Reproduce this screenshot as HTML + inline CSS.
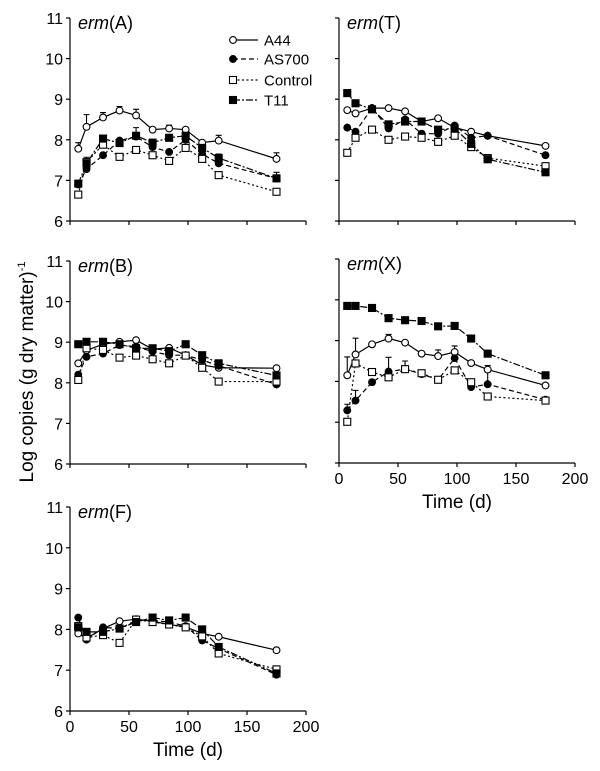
<!DOCTYPE html>
<html><head><meta charset="utf-8">
<style>
html,body{margin:0;padding:0;background:#fff;}
svg{display:block;font-family:"Liberation Sans",Arial,sans-serif;}
</style></head>
<body>
<svg id="chart" width="600" height="771" viewBox="0 0 600 771" xmlns="http://www.w3.org/2000/svg"></svg>
<script>
const days = [7,14,28,42,56,70,84,98,112,126,175];
const seriesNames = ["A44","AS700","Control","T11"];
const xTicks = [0,50,100,150,200];
const yTicks = [6,7,8,9,10,11];
// panel erm(A)
const A_A44 = [7.78,8.32,8.55,8.72,8.6,8.25,8.28,8.25,7.93,7.98,7.53];
const A_AS700 = [6.9,7.28,7.62,7.98,8.08,7.82,7.7,8.0,7.65,7.42,7.05];
const A_Control = [6.65,7.45,7.88,7.58,7.75,7.62,7.48,7.8,7.53,7.13,6.72];
const A_T11 = [6.92,7.42,8.03,7.92,8.1,7.93,8.05,8.1,7.8,7.55,7.05];
const A_A44_err = [0.15,0.3,0.12,0.1,0.15,0.05,0.08,0.03,0.03,0.13,0.15];
const A_T11_err = [0.05,0.15,0.05,0.05,0.2,0.05,0.05,0.1,0.05,0.1,0.15];
// panel erm(T)
const T_A44 = [8.73,8.65,8.78,8.78,8.7,8.45,8.53,8.3,8.2,8.1,7.85];
const T_AS700 = [8.3,8.2,8.78,8.28,8.5,8.15,8.15,8.35,8.05,8.1,7.62];
const T_Control = [7.68,8.05,8.25,8.0,8.08,8.05,7.95,8.1,7.82,7.55,7.35];
const T_T11 = [9.15,8.9,8.75,8.38,8.45,8.45,8.25,8.28,7.9,7.52,7.2];
// panel erm(B)
const B_A44 = [8.48,8.8,8.95,9.01,9.05,8.83,8.86,8.68,8.44,8.37,8.36];
const B_AS700 = [8.2,8.64,8.72,8.93,8.89,8.77,8.68,8.68,8.56,8.42,7.96];
const B_Control = [8.07,8.85,8.81,8.62,8.67,8.58,8.48,8.67,8.37,8.03,8.03];
const B_T11 = [8.95,9.01,9.01,8.95,8.85,8.85,8.78,8.95,8.68,8.48,8.18];
// panel erm(X)
const X_A44 = [8.15,8.66,8.91,9.05,8.95,8.68,8.62,8.72,8.45,8.29,7.9];
const X_AS700 = [7.29,7.53,7.98,8.24,8.3,8.18,8.04,8.57,7.86,7.93,7.55];
const X_Control = [7.01,8.44,8.23,8.1,8.3,8.2,8.04,8.27,7.98,7.63,7.53];
const X_T11 = [9.85,9.85,9.8,9.55,9.5,9.48,9.35,9.36,9.05,8.68,8.15];
const X_A44_err = [0.45,0.4,0.03,0.1,0.03,0.05,0.15,0.15,0.03,0.1,0.03];
const X_AS700_err = [0.15,0.25,0.05,0.35,0.2,0.05,0.05,0.05,0.1,0.3,0.03];
// panel erm(F)
const F_A44 = [7.9,7.78,8.02,8.2,8.25,8.2,8.12,8.06,7.9,7.82,7.49];
const F_AS700 = [8.29,7.75,8.05,8.02,8.22,8.22,8.18,8.08,7.73,7.53,6.89];
const F_Control = [8.08,7.8,7.86,7.67,8.24,8.18,8.12,8.05,7.83,7.41,7.02];
const F_T11 = [8.05,7.94,7.94,8.02,8.18,8.29,8.22,8.29,8.0,7.57,6.92];

const NS="http://www.w3.org/2000/svg";
const svg=document.getElementById('chart');
function el(tag,attrs,parent){const e=document.createElementNS(NS,tag);for(const k in attrs)e.setAttribute(k,attrs[k]);(parent||svg).appendChild(e);return e;}
const styles={
 A44:{dash:"",fill:"#fff"},
 AS700:{dash:"5,3",fill:"#000"},
 Control:{dash:"2,2.5",fill:"#fff"},
 T11:{dash:"7,2,2,2",fill:"#000"}
};
const panels=[
 {id:"A",x0:70,x1:306,y11:18,y6:221,data:[A_A44,A_AS700,A_Control,A_T11],err:[A_A44_err,null,null,A_T11_err],yLabels:true,xLabels:false},
 {id:"T",x0:339,x1:575,y11:18,y6:221,data:[T_A44,T_AS700,T_Control,T_T11],err:[],yLabels:false,xLabels:false},
 {id:"B",x0:70,x1:306,y11:261,y6:464,data:[B_A44,B_AS700,B_Control,B_T11],err:[],yLabels:true,xLabels:false},
 {id:"X",x0:339,x1:575,y11:259,y6:463,data:[X_A44,X_AS700,X_Control,X_T11],err:[X_A44_err,X_AS700_err],yLabels:false,xLabels:true},
 {id:"F",x0:70,x1:306,y11:507,y6:711,data:[F_A44,F_AS700,F_Control,F_T11],err:[],yLabels:true,xLabels:true}
];
panels.forEach(p=>{
 const g=el('g',{});
 
 
 const xs=v=>p.x0+(v-0)/200*(p.x1-p.x0);
 const ys=v=>p.y6-(v-6)/5*(p.y6-p.y11);
 const ax=el('path',{d:`M${p.x0},${p.y11} V${p.y6} H${p.x1}`,stroke:"#000","stroke-width":1.2,fill:"none"},g);
 
 
 yTicks.forEach(t=>{
  el('line',{x1:p.x0-4,x2:p.x0,y1:ys(t),y2:ys(t),stroke:"#000","stroke-width":1.2},g);
  if(p.yLabels){const tx=el('text',{x:p.x0-7,y:ys(t)+6,"text-anchor":"end","font-size":16},g);tx.textContent=t;
   
   }
 });
 xTicks.forEach(t=>{
  el('line',{x1:xs(t),x2:xs(t),y1:p.y6,y2:p.y6+4,stroke:"#000","stroke-width":1.2},g);
  if(p.xLabels){const tx=el('text',{x:xs(t),y:p.y6+21,"text-anchor":"middle","font-size":16},g);tx.textContent=t;
   
   }
 });
 if(p.xLabels){const tt=el('text',{x:(p.x0+p.x1)/2,y:p.y6+45,"text-anchor":"middle","font-size":19},g);tt.textContent="Time (d)";
  
  }
 const title=el('text',{x:p.x0+8,y:p.y11+11,"font-size":18},g);
 title.innerHTML='<tspan font-style="italic">erm</tspan>('+p.id+')';
 
 
 p.data.forEach((vals,si)=>{
  const nm=seriesNames[si], st=styles[nm];
  const pts=vals.map((v,i)=>xs(days[i])+','+ys(v)).join(' ');
  const pl=el('polyline',{points:pts,fill:"none",stroke:"#000","stroke-width":1.2,"stroke-dasharray":st.dash},g);
  
  
 });
 p.data.forEach((vals,si)=>{
  const e=p.err[si]; if(!e) return;
  vals.forEach((v,i)=>{
   if(e[i]<0.06) return;
   const x=xs(days[i]), y1=ys(v), y2=ys(v+e[i]);
   const eb=el('path',{d:`M${x},${y1} V${y2} M${x-3},${y2} H${x+3}`,stroke:"#000","stroke-width":1.1,fill:"none"},g);
   
   
  });
 });
 p.data.forEach((vals,si)=>{
  const nm=seriesNames[si], st=styles[nm];
  vals.forEach((v,i)=>{
   let m;
   if(nm==="A44"||nm==="AS700") m=el('circle',{cx:xs(days[i]),cy:ys(v),r:3.4,fill:st.fill,stroke:"#000","stroke-width":1.1},g);
   else m=el('rect',{x:xs(days[i])-3.5,y:ys(v)-3.5,width:7,height:7,fill:st.fill,stroke:"#000","stroke-width":1.1},g);
   
   
  });
 });
});
// legend
const lg=el('g',{});


const legY=[40,59,80,100];
seriesNames.forEach((nm,i)=>{
 const st=styles[nm], y=legY[i];
 const e=el('g',{},lg);
 
 
 el('line',{x1:233,x2:258,y1:y,y2:y,stroke:"#000","stroke-width":1.2,"stroke-dasharray":st.dash},e);
 if(i<2) el('circle',{cx:233,cy:y,r:3.4,fill:st.fill,stroke:"#000","stroke-width":1.1},e);
 else el('rect',{x:229.5,y:y-3.5,width:7,height:7,fill:st.fill,stroke:"#000","stroke-width":1.1},e);
 const t=el('text',{x:264,y:y+5.5,"font-size":15},e);t.textContent=nm;
});
const yl=el('text',{x:0,y:0,"text-anchor":"middle","font-size":19,transform:"translate(33,372) rotate(-90)"});
yl.innerHTML='Log copies (g dry matter)<tspan dy="-8" font-size="11">-1</tspan>';


</script>
</body></html>
